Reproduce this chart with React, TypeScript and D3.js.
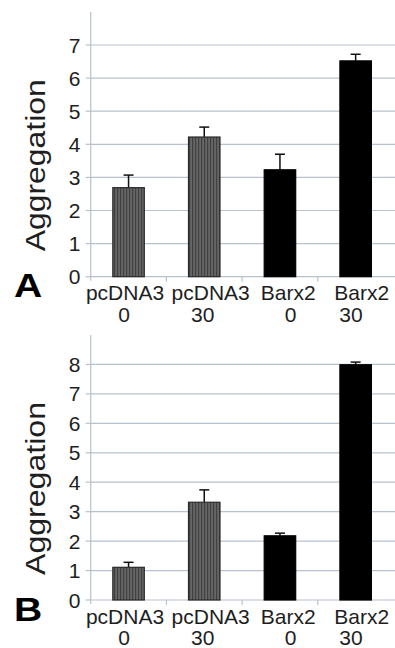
import React from "react";
import * as d3 from "d3";

const categories = ["pcDNA3|0", "pcDNA3|30", "Barx2|0", "Barx2|30"];
const barKinds = ["gray", "gray", "black", "black"];
const valuesA = [2.69, 4.22, 3.23, 6.52];
const errorsA = [0.38, 0.3, 0.47, 0.2];
const ticksA = [0, 1, 2, 3, 4, 5, 6, 7];
const valuesB = [1.11, 3.32, 2.18, 7.99];
const errorsB = [0.17, 0.42, 0.09, 0.09];
const ticksB = [0, 1, 2, 3, 4, 5, 6, 7, 8];
const yTitle = "Aggregation";

// layout: small horizontal nudges of the two label lines relative to the band centre
const LABEL_NUDGE_1 = [-3.5, 6.4, 8.2, 6.1];
const LABEL_NUDGE_2 = [-4.5, -1.6, 10.7, -4.6];

const FONT = "'Liberation Sans', Arial, Helvetica, sans-serif";
const TEXT = "#1e1e1e";
const GRID = "#b7c2ce";

type PanelProps = {
  values: number[];
  errors: number[];
  ticks: number[];
  yMax: number;
  top: number;
  bottom: number;
  letter: string;
  letterY: number;
  titleLen: number;
};

function Panel({ values, errors, ticks, yMax, top, bottom, letter, letterY, titleLen }: PanelProps) {
  const left = 90.7;
  const right = 393.5;
  const x = d3
    .scaleBand<string>()
    .domain(categories)
    .range([left, right])
    .paddingInner(0.584)
    .paddingOuter(0.292);
  const y = d3.scaleLinear().domain([0, yMax]).range([bottom, top]);
  const step = x.step();
  const bw = x.bandwidth();
  const capHalf = 5;
  return (
    <g>
      {ticks.map((t) => (
        <line key={"g" + t} x1={left} x2={395} y1={y(t)} y2={y(t)} stroke={GRID} strokeWidth={1.2} />
      ))}
      <line x1={left} x2={left} y1={top} y2={bottom + 4} stroke={GRID} strokeWidth={1.2} />
      {ticks.map((t) => (
        <line key={"t" + t} x1={left - 5} x2={left} y1={y(t)} y2={y(t)} stroke={GRID} strokeWidth={1.2} />
      ))}
      {categories.slice(1).map((c) => {
        const xx = (x(c) as number) - (step - bw) / 2;
        return <line key={"xt" + c} x1={xx} x2={xx} y1={bottom} y2={bottom + 5} stroke={GRID} strokeWidth={1.2} />;
      })}
      {categories.map((c, i) => {
        const x0 = x(c) as number;
        const cx = x0 + bw / 2;
        const v = values[i];
        const e = errors[i];
        return (
          <g key={"b" + c}>
            <line x1={cx} x2={cx} y1={y(v)} y2={y(v + e)} stroke="#111" strokeWidth={1.5} />
            <line x1={cx - capHalf} x2={cx + capHalf} y1={y(v + e)} y2={y(v + e)} stroke="#111" strokeWidth={1.5} />
            <rect
              x={x0}
              y={y(v)}
              width={bw}
              height={y(0) - y(v)}
              fill={barKinds[i] === "gray" ? "url(#stripes)" : "#000"}
              stroke={barKinds[i] === "gray" ? "#2a2a2a" : "#000"}
              strokeWidth={1.2}
            />
          </g>
        );
      })}
      {ticks.map((t) => (
        <text
          key={"l" + t}
          x={80.5}
          y={y(t)}
          dy="0.36em"
          textAnchor="end"
          fontSize={21}
          fontFamily={FONT}
          fill={TEXT}
        >
          {t}
        </text>
      ))}
      {categories.map((c, i) => {
        const [l1, l2] = c.split("|");
        const cx = (x(c) as number) + bw / 2;
        return (
          <g key={"c" + c}>
            <text x={cx + LABEL_NUDGE_1[i]} y={bottom + 23.5} textAnchor="middle" fontSize={21} fontFamily={FONT} fill={TEXT}>
              {l1}
            </text>
            <text x={cx + LABEL_NUDGE_2[i]} y={bottom + 45} textAnchor="middle" fontSize={21} fontFamily={FONT} fill={TEXT}>
              {l2}
            </text>
          </g>
        );
      })}
      <text
        transform={`translate(45,${(top + bottom) / 2 + 21}) rotate(-90)`}
        textAnchor="middle"
        fontSize={27}
        fontFamily={FONT}
        fill={TEXT}
        textLength={titleLen}
        lengthAdjust="spacingAndGlyphs"
      >
        {yTitle}
      </text>
      <text
        transform={`translate(14,${letterY}) scale(1.15,1)`}
        fontSize={34}
        fontWeight="bold"
        fontFamily={FONT}
        fill="#000"
      >
        {letter}
      </text>
    </g>
  );
}

export default function App() {
  return (
    <svg
      width={395}
      height={648}
      viewBox="0 0 395 648"
      style={{ position: "absolute", left: 0, top: 0, background: "#fff" }}
    >
      <defs>
        <pattern id="stripes" patternUnits="userSpaceOnUse" width={3} height={10}>
          <rect width={3} height={10} fill="#666" />
          <rect width={1.2} height={10} fill="#404040" />
        </pattern>
      </defs>
      <rect width={395} height={648} fill="#fff" />
      <Panel
        values={valuesA}
        errors={errorsA}
        ticks={ticksA}
        yMax={8}
        top={11.9}
        bottom={276.7}
        letter="A"
        letterY={297}
        titleLen={172}
      />
      <Panel
        values={valuesB}
        errors={errorsB}
        ticks={ticksB}
        yMax={9}
        top={335}
        bottom={600}
        letter="B"
        letterY={621}
        titleLen={173}
      />
    </svg>
  );
}
